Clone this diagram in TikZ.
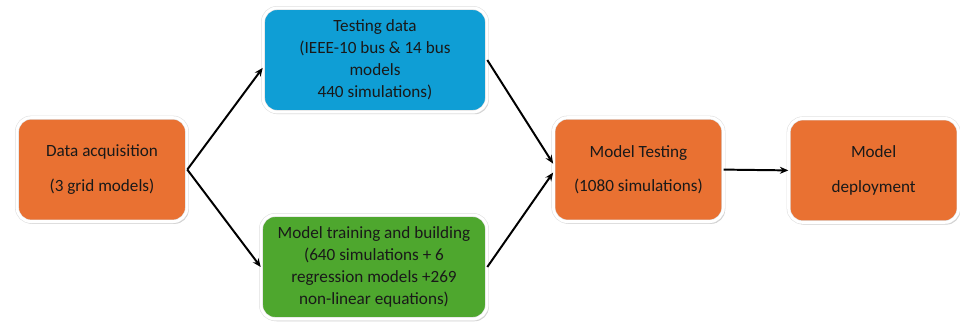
\documentclass[tikz,border=0pt]{standalone}
\usepackage{fontspec}
\setsansfont{Carlito}
\usepackage{xcolor}
\usepackage{tikz}
\usetikzlibrary{arrows.meta,shadows}

\definecolor{boxorange}{HTML}{E97132}
\definecolor{boxblue}{HTML}{0F9ED5}
\definecolor{boxgreen}{HTML}{4EA72E}

\begin{document}
\begin{tikzpicture}[
        font=\sffamily\fontsize{12.2}{15.6}\selectfont,
        stage/.style={draw=gray!25, double=white, double distance=2pt, rounded corners=10pt,
                      minimum height=2.6cm, align=center, text=black!90, inner sep=2pt,
                      drop shadow={shadow xshift=1.2pt, shadow yshift=-1.6pt, fill=black!30, opacity=0.6}},
        orangebox/.style={stage, fill=boxorange, minimum width=4.25cm},
        bluebox/.style={stage, fill=boxblue, minimum width=5.6cm},
        greenbox/.style={stage, fill=boxgreen, minimum width=5.65cm},
        flow/.style={-{Stealth[length=6pt,width=5pt]}, line width=1.4pt, draw=black}
    ]

    \useasboundingbox (0,0) rectangle (24,-8.175);

    % ==========================================
    % Stages
    % ==========================================
    \node[orangebox] (acq) at (2.55, -4.24) {Data acquisition\\[9pt](3 grid models)};

    \node[bluebox] (testdata) at (9.375, -1.5) {Testing data\\(IEEE-10 bus \& 14 bus\\models\\440 simulations)};
    \node[greenbox] (train) at (9.35, -6.675) {Model training and building\\(640 simulations + 6\\regression models +269\\non-linear equations)};

    \node[orangebox] (mtest) at (15.96, -4.24) {Model Testing\\[9pt](1080 simulations)};
    \node[orangebox] (deploy) at (21.84, -4.26) {Model\\[9pt]deployment};

    % ==========================================
    % Connectors
    % ==========================================
    \draw[flow] (acq.east) -- (testdata.184);
    \draw[flow] (acq.east) -- (train.west);
    \draw[flow] (testdata.east) -- (mtest.176);
    \draw[flow] (train.east) -- (mtest.182);
    \draw[flow] (mtest.east) -- (deploy.west);

\end{tikzpicture}
\end{document}
